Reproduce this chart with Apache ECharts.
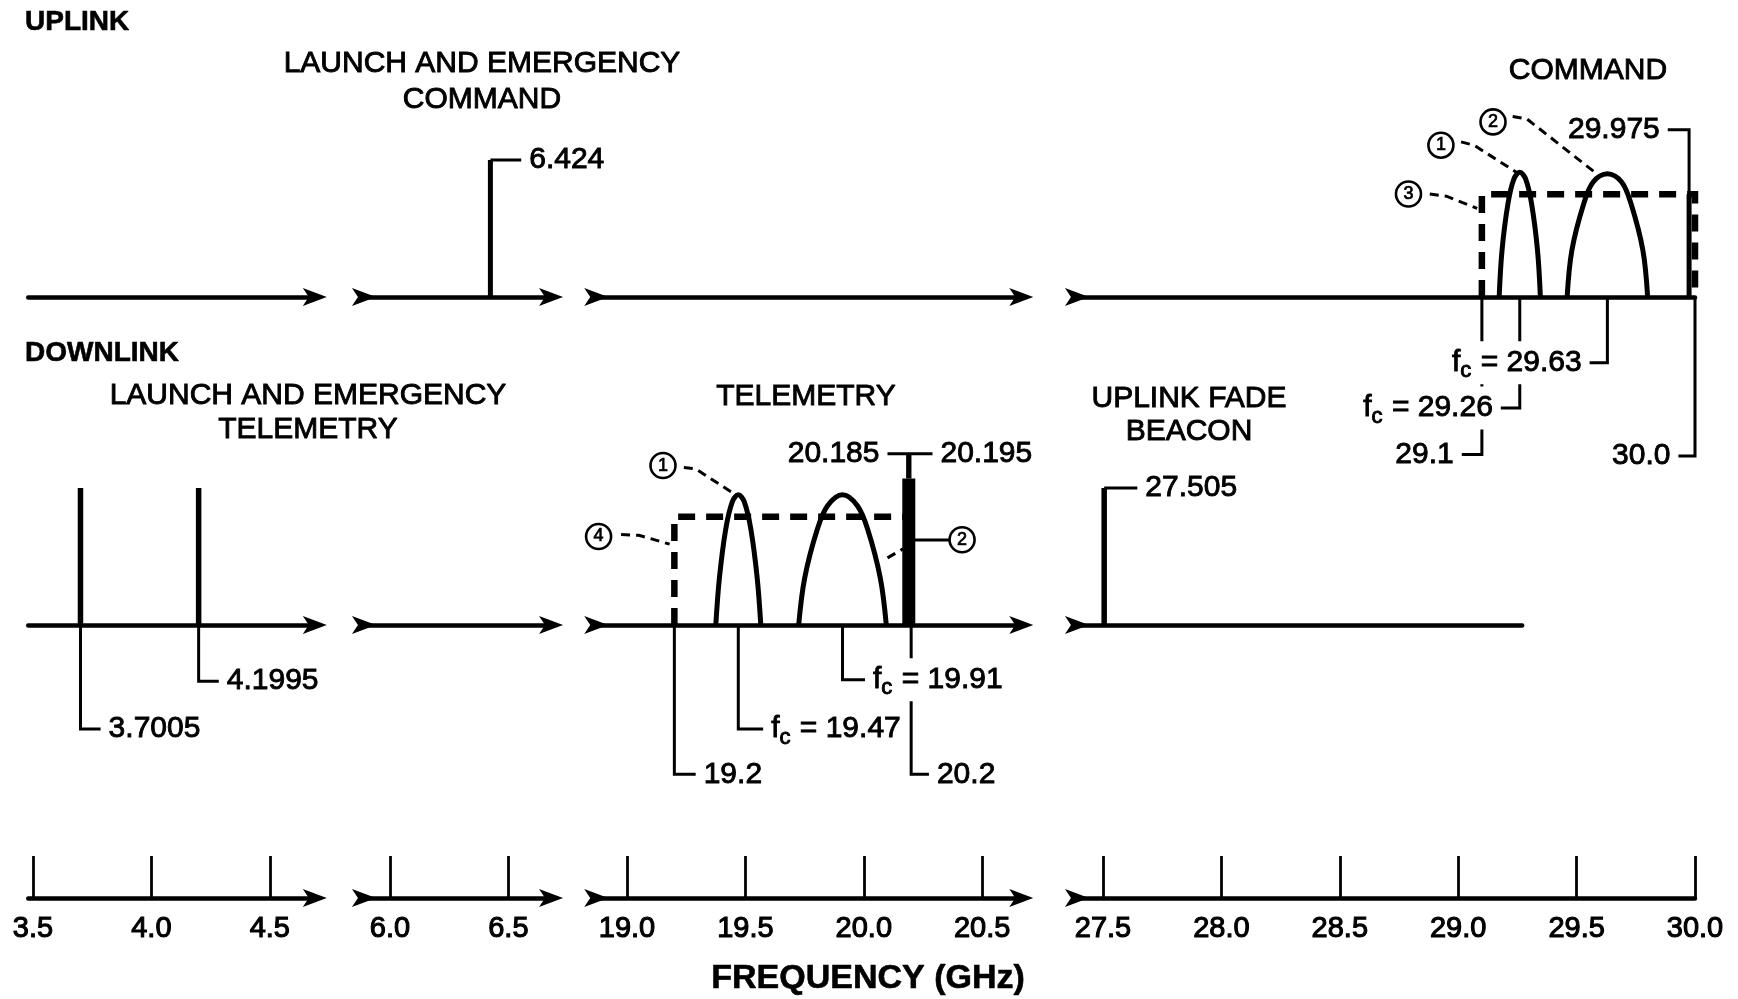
<!DOCTYPE html>
<html><head><meta charset="utf-8">
<script src="https://cdn.jsdelivr.net/npm/echarts@6/dist/echarts.min.js"></script>
<style>html,body{margin:0;padding:0;background:#fff}#c{width:1738px;height:999px}</style>
</head><body><div id="c"></div>
<script>
// ================= DATA =================
// frequency scale (GHz) of the four broken axis segments
const scaleTicks = [[3.5, 4.0, 4.5], [6.0, 6.5], [19.0, 19.5, 20.0, 20.5], [27.5, 28.0, 28.5, 29.0, 29.5, 30.0]];
const segMin = [3.48, 5.89, 18.87, 27.39];
const segMax = [4.69, 6.68, 20.665, 30.0];
const downlinkSeg4Max = 29.27;

// UPLINK (relative level: baseline 0, spike 1)
const upSpikes = [[6.424, 1.0]];
const upBand = [29.1, 30.0];
const upBandLevel = 0.75;
const upEdge = 29.975;
const upArch1 = [[29.173, 0], [29.185, 0.34], [29.21, 0.68], [29.235, 0.86], [29.26, 0.91], [29.285, 0.86], [29.31, 0.68], [29.335, 0.34], [29.347, 0]];
const upArch2 = [[29.46, 0], [29.48, 0.34], [29.53, 0.68], [29.57, 0.84], [29.63, 0.90], [29.69, 0.84], [29.73, 0.68], [29.78, 0.34], [29.80, 0]];
// leaders: [freq, fromLevel, toLevel, horizontal run (GHz), text]
const upLeaders = [
  [6.424, 1.0, 1.0, 0.13, '6.424'],
  [29.975, 0, 1.22, -0.09, '29.975'],
  [29.1, 0, -1.15, -0.085, '29.1'],
  [29.26, 0, -0.81, -0.08, 'f_c = 29.26'],
  [29.63, 0, -0.48, -0.075, 'f_c = 29.63'],
  [30.0, 0, -1.16, -0.07, '30.0']
];
const upCircles = [[28.927, 1.108, '1'], [29.147, 1.278, '2'], [28.79, 0.752, '3']];
const upPointers = [
  [[29.012, 1.132], [29.067, 1.108], [29.255, 0.90]],
  [[29.23, 1.318], [29.29, 1.30], [29.586, 0.898]],
  [[28.88, 0.752], [28.95, 0.736], [29.08, 0.647]]
];

// DOWNLINK
const dlSpikes = [[3.7005, 1.0], [4.1995, 1.0], [27.505, 1.0]];
const dlBand = [19.2, 20.2];
const dlBandLevel = 0.79;
const dlBar = [20.19, 1.07];
const dlArch1 = [[19.375, 0], [19.39, 0.34], [19.417, 0.70], [19.445, 0.90], [19.47, 0.95], [19.495, 0.90], [19.523, 0.70], [19.55, 0.34], [19.565, 0]];
const dlArch2 = [[19.725, 0], [19.75, 0.34], [19.804, 0.70], [19.847, 0.87], [19.91, 0.95], [19.973, 0.87], [20.016, 0.70], [20.07, 0.34], [20.095, 0]];
const dlLeaders = [
  [3.7005, 0, -0.76, 0.085, '3.7005'],
  [4.1995, 0, -0.41, 0.085, '4.1995'],
  [27.505, 1.0, 1.0, 0.14, '27.505'],
  [19.2, 0, -1.09, 0.09, '19.2'],
  [19.47, 0, -0.76, 0.105, 'f_c = 19.47'],
  [19.91, 0, -0.40, 0.095, 'f_c = 19.91'],
  [20.2, 0, -1.09, 0.075, '20.2'],
  [20.185, 1.07, 1.25, -0.085, '20.185'],
  [20.195, 1.07, 1.25, 0.095, '20.195']
];
const dlCircles = [[19.152, 1.164, '1'], [18.88, 0.646, '4'], [20.415, 0.622, '2']];
const dlPointers = [
  [[19.24, 1.15], [19.29, 1.14], [19.45, 0.96]],
  [[18.975, 0.66], [19.05, 0.655], [19.18, 0.59]],
  [[20.10, 0.49], [20.17, 0.56]]
];
const dlSolidPointers = [[[20.195, 0.62], [20.365, 0.62]]];

// ================= LAYOUT =================
const INK = '#000';
const FONT = '"Liberation Sans", Arial, sans-serif';
const HEAVY = 0.9;    // stroke added to text to mimic the print weight
const PX = 236.8;     // px per GHz
const U = 137;        // px per level unit
const colAnchor = [[3.5, 33], [6.0, 390], [19.0, 627], [27.5, 1103]];
const rows = [{base: 297, lo: -1.4, hi: 1.5}, {base: 625, lo: -1.3, hi: 1.4}, {base: 898, lo: 0, hi: 0.5}];
const ARROW = 'path://M9,0L18,24L9,18L0,24Z';
const TAIL = 'path://M0,0L9,6L18,0L9,24Z';

const grids = [], xAxes = [], yAxes = [];
rows.forEach((r, ri) => {
  for (let c = 0; c < 4; c++) {
    const idx = ri * 4 + c;
    const min = segMin[c];
    const max = (ri === 1 && c === 3) ? downlinkSeg4Max : segMax[c];
    grids.push({
      left: colAnchor[c][1] + (min - colAnchor[c][0]) * PX,
      top: r.base - r.hi * U,
      width: (max - min) * PX,
      height: (r.hi - r.lo) * U,
      containLabel: false, outerBoundsMode: 'none'
    });
    const isScale = ri === 2;
    xAxes.push({
      type: 'value', gridIndex: idx, min: min, max: max,
      axisLine: {show: true, onZero: true,
        symbol: [c === 0 ? 'none' : TAIL, c === 3 ? 'none' : ARROW],
        symbolSize: [18, 24],
        lineStyle: {color: INK, width: 4.5}},
      axisTick: isScale ? {show: true, inside: true, length: 42, customValues: scaleTicks[c],
        lineStyle: {color: INK, width: 2.8}} : {show: false},
      axisLabel: isScale ? {show: true, customValues: scaleTicks[c], margin: 16,
        formatter: v => Number(v).toFixed(1), fontSize: 29, fontFamily: FONT, color: INK,
        textBorderColor: INK, textBorderWidth: 1.1} : {show: false},
      splitLine: {show: false}
    });
    yAxes.push({type: 'value', gridIndex: idx, min: r.lo, max: r.hi, show: false});
  }
});

function gi(row, f) {
  let c = 0;
  for (let i = 0; i < 4; i++) if (f >= segMin[i] - 0.05) c = i;
  return row * 4 + c;
}
const series = [];
function line(row, pts, style, z) {
  const g = gi(row, pts[0][0]);
  series.push({type: 'line', xAxisIndex: g, yAxisIndex: g, data: pts, symbol: 'none', silent: true,
    clip: false, animation: false, z: z || 3,
    lineStyle: Object.assign({color: INK, cap: 'butt', join: 'miter'}, style)});
  return series[series.length - 1];
}
function fmt(s) {
  if (s.indexOf('f_c') === 0) return '{f|f}{c|c}{t|' + s.slice(3) + '}';
  return '{t|' + s + '}';
}
const txt = {fontFamily: FONT, color: INK, textBorderColor: INK, textBorderWidth: HEAVY};
const rich = {
  f: Object.assign({fontSize: 30}, txt),
  c: Object.assign({fontSize: 22, padding: [17, 1, 0, 0]}, txt),
  t: Object.assign({fontSize: 30}, txt)
};
function label(row, x, y, s, pos) {
  const g = gi(row, x);
  series.push({type: 'scatter', xAxisIndex: g, yAxisIndex: g, silent: true, animation: false, clip: false,
    symbolSize: 0.01, itemStyle: {color: '#fff', opacity: 1}, z: 6,
    data: [{value: [x, y], label: {show: true, position: pos, distance: 5, formatter: fmt(s), rich: rich,
      color: INK, opacity: 1, fontFamily: FONT, fontSize: 30, textBorderColor: INK, textBorderWidth: HEAVY,
      backgroundColor: '#fff', padding: [2, 3, 2, 3]}}]});
}
function circles(row, list) {
  list.forEach(p => {
    const g = gi(row, p[0]);
    series.push({type: 'scatter', xAxisIndex: g, yAxisIndex: g, silent: true, animation: false, clip: false,
      symbol: 'circle', symbolSize: 25, z: 7,
      itemStyle: {color: '#fff', borderColor: INK, borderWidth: 2.6, opacity: 1},
      data: [{value: [p[0], p[1]], label: {show: true, position: 'inside', formatter: p[2],
        fontSize: 18, fontFamily: FONT, color: INK, textBorderColor: INK, textBorderWidth: 0.7}}]});
  });
}
function leaders(row, list) {
  list.forEach(L => {
    const [f, a, b, run, t] = L;
    line(row, [[f, a], [f, b], [f + run, b]], {width: 3});
    label(row, f + run, b, t, run > 0 ? 'right' : 'left');
  });
}

// ---- uplink ----
upSpikes.forEach(s => line(0, [[s[0], 0], [s[0], s[1]]], {width: 5}));
line(0, [[upBand[0], 0], [upBand[0], upBandLevel], [upBand[1], upBandLevel], [upBand[1], 0]], {width: 6.5, type: [17, 11]});
line(0, upArch1, {width: 5}, 4).smooth = 0.35;
line(0, upArch2, {width: 5}, 4).smooth = 0.35;
line(0, [[upEdge, 0], [upEdge, 0.75]], {width: 5});
leaders(0, upLeaders);
upPointers.forEach(p => line(0, p, {width: 3, type: [9, 6]}));
circles(0, upCircles);

// ---- downlink ----
dlSpikes.forEach(s => line(1, [[s[0], 0], [s[0], s[1]]], {width: 5.5}));
line(1, [[dlBand[0], 0], [dlBand[0], dlBandLevel], [dlBand[1], dlBandLevel]], {width: 6.5, type: [17, 11]});
line(1, dlArch1, {width: 5}, 4).smooth = 0.35;
line(1, dlArch2, {width: 5}, 4).smooth = 0.35;
line(1, [[dlBar[0], 0], [dlBar[0], dlBar[1]]], {width: 13}, 5);
leaders(1, dlLeaders);
dlPointers.forEach(p => line(1, p, {width: 3, type: [9, 6]}));
dlSolidPointers.forEach(p => line(1, p, {width: 3}));
circles(1, dlCircles);

// ---- headings ----
function T(x, y, s, size, bold, align) {
  return {type: 'text', x: x, y: y, silent: true, z: 10,
    style: {text: s, fill: INK, fontSize: size, fontFamily: FONT, fontWeight: bold ? 'bold' : 'normal',
      stroke: INK, lineWidth: bold ? 0.6 : HEAVY,
      align: align || 'center', verticalAlign: 'middle'}};
}
const graphic = [
  T(25, 22, 'UPLINK', 28, true, 'left'),
  T(482, 64, 'LAUNCH AND EMERGENCY', 30),
  T(482, 100, 'COMMAND', 30),
  T(1588, 71, 'COMMAND', 30),
  T(25, 353, 'DOWNLINK', 28, true, 'left'),
  T(308, 396, 'LAUNCH AND EMERGENCY', 30),
  T(308, 430, 'TELEMETRY', 30),
  T(806, 397, 'TELEMETRY', 30),
  T(1189, 399, 'UPLINK FADE', 30),
  T(1189, 432, 'BEACON', 30),
  T(868, 979, 'FREQUENCY (GHz)', 34, true)
];

const chart = echarts.init(document.getElementById('c'), null, {renderer: 'canvas'});
chart.setOption({
  backgroundColor: '#fff', animation: false,
  grid: grids, xAxis: xAxes, yAxis: yAxes, series: series, graphic: graphic
});
</script></body></html>
